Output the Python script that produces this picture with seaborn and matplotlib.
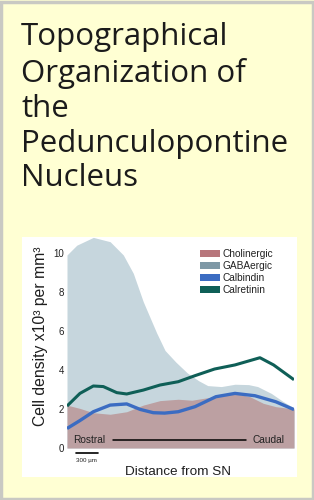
import matplotlib
matplotlib.use("Agg")
import matplotlib.pyplot as plt
from matplotlib.patches import Rectangle, Patch
import seaborn as sns
import pandas as pd

# ---- data (distance from SN, arbitrary units 0-100; density x10^3 per mm^3) ----
gaba_x = [0, 4.3, 11.6, 19, 24.8, 29.2, 33.6, 39.5, 43.2, 48, 53, 58, 62, 68, 74, 80, 84, 90, 95, 100]
gaba_y = [9.9, 10.4, 10.8, 10.58, 9.9, 8.96, 7.5, 5.9, 5.0, 4.4, 3.85, 3.45, 3.2, 3.15, 3.27, 3.25, 3.15, 2.8, 2.4, 2.05]

chol_x = [0, 5.7, 11.6, 19, 26.3, 33.6, 41, 49, 55, 62, 68, 74, 80.6, 86.5, 92, 100]
chol_y = [2.2, 2.03, 1.81, 1.73, 1.86, 2.2, 2.43, 2.5, 2.45, 2.58, 2.65, 2.8, 2.63, 2.29, 2.12, 2.0]

calb_x = [0, 5.6, 11.6, 19, 26.3, 32.2, 38, 43, 49, 56.4, 65.6, 74, 82.8, 92, 100]
calb_y = [1.0, 1.4, 1.86, 2.2, 2.26, 1.98, 1.81, 1.79, 1.86, 2.12, 2.63, 2.8, 2.68, 2.37, 1.97]

calr_x = [0, 5.7, 11.6, 16, 21.9, 26.3, 33.6, 41, 49, 56.4, 65, 74, 85, 91, 100]
calr_y = [2.15, 2.8, 3.18, 3.15, 2.84, 2.77, 2.97, 3.23, 3.4, 3.71, 4.05, 4.26, 4.63, 4.26, 3.5]

series_names = ["Cholinergic", "GABAergic", "Calbindin", "Calretinin"]
y_ticks = [0, 2, 4, 6, 8, 10]
title_lines = ["Topographical", "Organization of", "the", "Pedunculopontine", "Nucleus"]

# ---- styling ----
BG = "#FFFFD3"
BORDER = "#C9C9C3"
CHOL_FILL = "#BCA0A2"
GABA_FILL = "#C6D6DD"
CHOL_SW = "#B7767C"
GABA_SW = "#7E98A6"
CALB = "#3B6CC2"
CALR = "#0F5F57"

sns.set_theme(style="white")
plt.rcParams["font.family"] = ["Liberation Sans", "DejaVu Sans"]

fig = plt.figure(figsize=(3.14, 5.0), dpi=100, facecolor=BG)

# border
fig.patches.append(Rectangle((0.003, 0.003), 0.994, 0.994, transform=fig.transFigure,
                             fill=False, edgecolor=BORDER, linewidth=2.5, zorder=-2))
# white panel
fig.patches.append(Rectangle((22 / 314, 1 - 477 / 500), (297 - 22) / 314, (477 - 237) / 500,
                             transform=fig.transFigure, facecolor="white", edgecolor="none", zorder=-1))

# title
baselines = [45, 82, 117, 152, 186]
for line, b in zip(title_lines, baselines):
    fig.text(21 / 314, 1 - b / 500, line, fontsize=22.5, color="#1b1b1b", fontweight="medium",
             family=["Open Sans", "DejaVu Sans"], ha="left", va="baseline")

# axes
ax = fig.add_axes([67 / 314, 1 - 448 / 500, 227 / 314, 214.5 / 500])
ax.set_facecolor("none")
ax.patch.set_alpha(0)

ax.fill_between(gaba_x, 0, gaba_y, color=GABA_FILL, linewidth=0, zorder=1)
ax.fill_between(chol_x, 0, chol_y, color=CHOL_FILL, linewidth=0, zorder=2)

df_calb = pd.DataFrame({"x": calb_x, "y": calb_y})
df_calr = pd.DataFrame({"x": calr_x, "y": calr_y})
sns.lineplot(data=df_calb, x="x", y="y", ax=ax, color=CALB, linewidth=2.4,
             solid_joinstyle="round", solid_capstyle="butt", zorder=4)
sns.lineplot(data=df_calr, x="x", y="y", ax=ax, color=CALR, linewidth=2.2,
             solid_joinstyle="round", solid_capstyle="butt", zorder=4)

ax.set_xlim(0, 100)
ax.set_ylim(0, 11)
ax.set_yticks(y_ticks)
ax.set_yticklabels([str(t) for t in y_ticks], fontsize=7, color="#222222")
ax.set_xticks([])
ax.tick_params(axis="y", length=0, pad=2)
for s in ax.spines.values():
    s.set_visible(False)
ax.set_xlabel("")
ax.set_ylabel("Cell density x10³ per mm³", fontsize=11.3, color="#1e1e1e")
ax.yaxis.set_label_coords(-0.085, 0.52)

# rostral-caudal annotation
ax.text(2.6, 0.41, "Rostral", fontsize=7.3, color="#222222", ha="left", va="center", zorder=5)
ax.text(95.6, 0.41, "Caudal", fontsize=7.3, color="#222222", ha="right", va="center", zorder=5)
ax.plot([20.3, 78.9], [0.41, 0.41], color="black", linewidth=1.1, zorder=5)

# scale bar
ax.plot([4.0, 13.7], [-0.26, -0.26], color="black", linewidth=1.2, clip_on=False)
ax.text(4.0, -0.62, "300 µm", fontsize=4.5, color="#222222", ha="left", va="center", clip_on=False)

fig.text(178 / 314, 1 - 472 / 500, "Distance from SN", fontsize=9.7, color="#1e1e1e",
         ha="center", va="center")

handles = [Patch(facecolor=CHOL_SW, edgecolor="none"),
           Patch(facecolor=GABA_SW, edgecolor="none"),
           Patch(facecolor=CALB, edgecolor="none"),
           Patch(facecolor=CALR, edgecolor="none")]
leg = ax.legend(handles, series_names, loc="upper left",
                bbox_to_anchor=(200 / 314, 1 - 249 / 500), bbox_transform=fig.transFigure,
                frameon=False, fontsize=7.3, borderpad=0, borderaxespad=0,
                handlelength=2.0, handleheight=0.65, handletextpad=0.25, labelspacing=0.2)
for t in leg.get_texts():
    t.set_color("#222222")

fig.savefig("out.png", dpi=100, facecolor=BG)
